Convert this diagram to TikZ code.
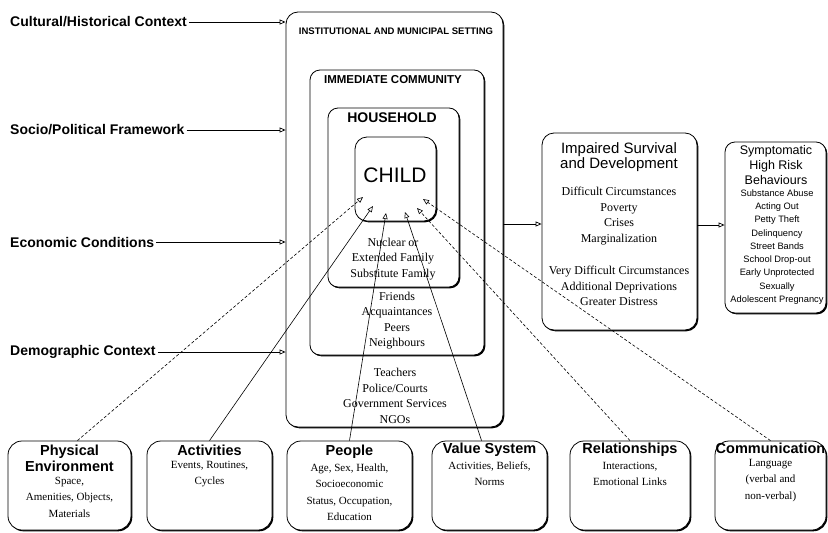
\documentclass[tikz,border=0pt]{standalone}
\usepackage{fontspec}
\setmainfont{Liberation Serif}
\setsansfont{Liberation Sans}
\usetikzlibrary{positioning,arrows.meta,shadows}

\begin{document}
\begin{tikzpicture}[x=1pt,y=-1pt,
    box/.style={draw, line width=0.8pt, fill=white, inner sep=0pt, rounded corners=#1,
      drop shadow={shadow xshift=1.3pt, shadow yshift=-1.3pt, opacity=1, fill=black}},
    box/.default=12pt,
    ctx/.style={font=\sffamily\bfseries\fontsize{14}{16}\selectfont, anchor=west, inner sep=2pt},
    arr/.style={-{Triangle[open,length=6pt,width=5pt]}, line width=0.7pt},
    link/.style={-{Triangle[open,length=6pt,width=5pt]}, line width=0.6pt},
    linkd/.style={link, dash pattern=on 3pt off 2pt},
    ring/.style={font=\fontsize{12}{15.5}\selectfont, align=center, inner sep=0pt},
    hd/.style={font=\sffamily\bfseries\fontsize{14.5}{16}\selectfont, align=center, inner sep=0pt},
    bd/.style={font=\fontsize{11}{16.5}\selectfont, align=center, inner sep=0pt}]
    \useasboundingbox (0,0) rectangle (828,533);

    % Context labels on the left
    \node[ctx] (cult) at (8,22) {Cultural/Historical Context};
    \node[ctx] (socio) at (8,130) {Socio/Political Framework};
    \node[ctx] (econ) at (8,242) {Economic Conditions};
    \node[ctx] (demo) at (8,352) {Demographic Context};

    % Nested settings round the child
    \node[box=12pt, minimum width=217pt, minimum height=415pt] (inst) at (394.5,219.5) {};
    \node[box=10pt, minimum width=174pt, minimum height=285pt] (comm) at (397,212.5) {};
    \node[box=10pt, minimum width=131pt, minimum height=179pt] (house) at (393.5,197.5) {};
    \node[box=12pt, minimum width=81pt, minimum height=84pt] (child) at (395.5,179) {};

    \node[font=\sffamily\bfseries\fontsize{9.5}{11}\selectfont] (instT) at (396,31) {INSTITUTIONAL AND MUNICIPAL SETTING};
    \node[font=\sffamily\bfseries\fontsize{11.5}{13}\selectfont] (commT) at (393,80) {IMMEDIATE COMMUNITY};
    \node[font=\sffamily\bfseries\fontsize{14}{16}\selectfont] (houseT) at (392,118) {HOUSEHOLD};
    \node[font=\sffamily\fontsize{21}{24}\selectfont] (childT) at (395,175) {CHILD};

    \node[ring] (houseL) at (393,259) {Nuclear or\\Extended Family\\Substitute Family};
    \node[ring] (commL) at (397,320.5) {Friends\\Acquaintances\\Peers\\Neighbours};
    \node[ring] (instL) at (395,396) {Teachers\\Police/Courts\\Government Services\\NGOs};

    % Outcomes
    \node[box=12pt, minimum width=155pt, minimum height=197pt] (imp) at (619.5,231.5) {};
    \node[font=\sffamily\fontsize{15}{13.5}\selectfont, align=center, inner sep=0pt] (impT) at (619,157) {Impaired Survival\\and Development};
    \node[ring] (impA) at (619,216) {Difficult Circumstances\\Poverty\\Crises\\Marginalization};
    \node[ring] (impB) at (619,286) {Very Difficult Circumstances\\Additional Deprivations\\Greater Distress};

    \node[box=10pt, minimum width=101pt, minimum height=171pt] (sym) at (775.5,227.5) {};
    \node[font=\sffamily\fontsize{12.5}{15}\selectfont, align=center, inner sep=0pt] (symT) at (776,165) {Symptomatic\\High Risk\\Behaviours};
    \node[font=\sffamily\fontsize{9.3}{13.25}\selectfont, align=center, inner sep=0pt] (symL) at (777,247) {Substance Abuse\\Acting Out\\Petty Theft\\Delinquency\\Street Bands\\School Drop-out\\Early Unprotected\\Sexually\\Adolescent Pregnancy};

    % Dimensions along the bottom
    \node[box=14pt, minimum width=123pt, minimum height=89pt] (phys) at (69.5,485.5) {};
    \node[box=14pt, minimum width=125pt, minimum height=89pt] (act) at (209.5,485.5) {};
    \node[box=14pt, minimum width=125pt, minimum height=89pt] (people) at (349.5,485.5) {};
    \node[box=14pt, minimum width=115pt, minimum height=89pt] (value) at (489.5,485.5) {};
    \node[box=14pt, minimum width=120pt, minimum height=89pt] (rel) at (630,485.5) {};
    \node[box=14pt, minimum width=111pt, minimum height=89pt] (commun) at (770.5,485.5) {};

    \node[hd, below=4pt of phys.north] (physH) {Physical\\Environment};
    \node[bd, below=5pt of physH] (physB) {Space,\\Amenities, Objects,\\Materials};
    \node[hd, below=4pt of act.north] (actH) {Activities};
    \node[bd, below=5pt of actH] (actB) {Events, Routines,\\Cycles};
    \node[hd, below=4pt of people.north] (peopleH) {People};
    \node[bd, below=5pt of peopleH] (peopleB) {Age, Sex, Health,\\Socioeconomic\\Status, Occupation,\\Education};
    \node[hd, below=2pt of value.north] (valueH) {Value System};
    \node[bd, below=5pt of valueH] (valueB) {Activities, Beliefs,\\Norms};
    \node[hd, below=2pt of rel.north] (relH) {Relationships};
    \node[bd, below=5pt of relH] (relB) {Interactions,\\Emotional Links};
    \node[hd, below=2pt of commun.north] (communH) {Communication};
    \node[bd, below=5pt of communH] (communB) {Language\\(verbal and\\non-verbal)};

    % Arrows from the context
    \draw[arr] (cult.east) -- (cult.east -| inst.west);
    \draw[arr] (socio.east) -- (socio.east -| inst.west);
    \draw[arr] (econ.east) -- (econ.east -| inst.west);
    \draw[arr] (demo.east) -- (demo.east -| inst.west);

    % Arrows to the outcomes
    \coordinate (impIn) at ([yshift=7.5pt]imp.west);
    \coordinate (symIn) at ([yshift=2.5pt]sym.west);
    \draw[arr] (inst.east |- impIn) -- (impIn);
    \draw[arr] (imp.east |- symIn) -- (symIn);

    % Links from the dimensions to the child
    \coordinate (c1) at (363,197);
    \coordinate (c2) at (373,206);
    \coordinate (c3) at (386,213);
    \coordinate (c4) at (405,212);
    \coordinate (c5) at (417,208);
    \coordinate (c6) at (423,199);
    \draw[linkd] (phys.80) -- (c1);
    \draw[link] (act.north) -- (c2);
    \draw[link] (people.north) -- (c3);
    \draw[link] (value.100) -- (c4);
    \draw[linkd] (rel.north) -- (c5);
    \draw[linkd] (commun.north) -- (c6);
\end{tikzpicture}
\end{document}
